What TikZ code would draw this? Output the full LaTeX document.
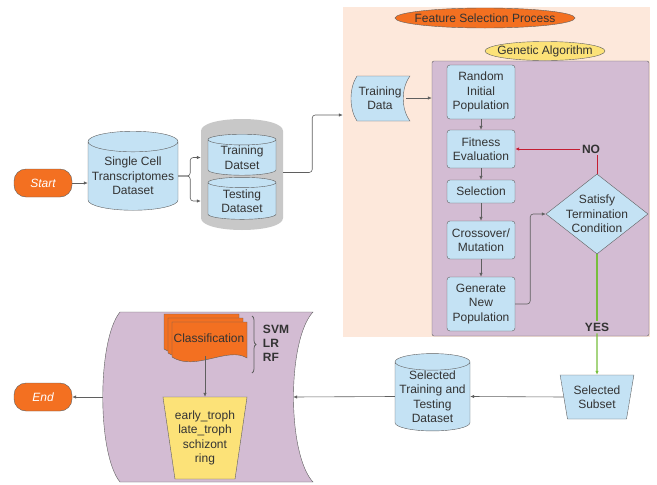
\documentclass[tikz,border=0pt]{standalone}
\usepackage{fontspec}
\setmainfont{Liberation Sans}
\usetikzlibrary{shapes.geometric,arrows.meta,decorations.pathreplacing}

\definecolor{orng}{RGB}{243,112,33}
\definecolor{lblue}{RGB}{196,226,244}
\definecolor{peach}{RGB}{253,232,219}
\definecolor{mauve}{RGB}{211,188,211}
\definecolor{gold}{RGB}{252,226,120}
\definecolor{silver}{RGB}{200,200,200}
\definecolor{edge}{RGB}{95,95,95}
\definecolor{ink}{RGB}{51,51,51}
\definecolor{nored}{RGB}{196,30,50}
\definecolor{yesgreen}{RGB}{118,190,60}

\begin{document}
\begin{tikzpicture}[x=1pt,y=-1pt,>={Latex[length=4pt,width=3.5pt]},
    every node/.style={font=\fontsize{12}{14.5}\selectfont,text=ink,align=center,inner sep=0pt},
    term/.style={draw=edge,fill=orng,rounded corners=12pt,minimum width=58,minimum height=28,text=white,font=\fontsize{12}{14}\selectfont\itshape},
    db/.style={cylinder,shape border rotate=90,aspect=0.25,draw=edge,fill=lblue},
    stepbox/.style={draw=edge,fill=lblue,rounded corners=3pt,minimum width=68},
    link/.style={->,draw=edge,line width=0.6pt},
    tag/.style={font=\fontsize{12}{14}\selectfont\bfseries,inner sep=2pt}]
  \useasboundingbox (0,0) rectangle (657,485);

  % input side
  \node[term] (start) at (43,183) {Start};
  \node[db,minimum width=90,minimum height=79] (sc) at (133,176) {Single Cell\\Transcriptomes\\Dataset};
  \fill[silver] (201,131) .. controls (201,115) and (283,115) .. (283,131) -- (283,218) .. controls (283,234) and (201,234) .. (201,218) -- cycle;
  \node[minimum width=82,minimum height=110] (split) at (242,174.5) {};
  \node[db,minimum width=68,minimum height=41] (trn) at (242,157.5) {Training\\Datset};
  \node[db,minimum width=68,minimum height=42] (tst) at (242,201) {Testing\\Dataset};
  \draw[link] (start) -- (start -| sc.west);
  \draw[link,rounded corners=3pt] (sc.east) -- ++(12,0) |- (split.west |- trn);
  \draw[link,rounded corners=3pt] (sc.east) -- ++(12,0) |- (split.west |- tst);

  % feature selection
  \node[fill=peach,minimum width=307,minimum height=330] (fs) at (496.5,172) {};
  \node[ellipse,draw=edge,fill=orng,minimum width=180,minimum height=20,inner xsep=-12pt] (fsp) at (485,18) {Feature Selection Process};
  \node[ellipse,draw=edge,fill=gold,minimum width=120,minimum height=19,inner xsep=-6pt] (gal) at (545,51) {Genetic Algorithm};
  \node[draw=edge,fill=mauve,rounded corners=2pt,minimum width=217,minimum height=275] (ga) at (540.5,198.5) {};
  \draw[link,rounded corners=3pt] ([yshift=2pt]split.east) -- ++(29,0) |- ([yshift=57pt]fs.west);
  \filldraw[draw=edge,fill=lblue] (357,76) -- (410,76) .. controls (401,88) and (401,109) .. (410,121) -- (357,121) .. controls (349,109) and (349,88) .. cycle;
  \node[minimum width=52] (td) at (380,98) {Training\\Data};
  \draw[link] (td.east) -- (ga.west |- td.east);

  \node[stepbox,minimum height=54] (rip) at (481,92) {Random\\Initial\\Population};
  \node[stepbox,minimum height=38] (fit) at (481,149) {Fitness\\Evaluation};
  \node[stepbox,minimum height=23] (sel) at (481,191.5) {Selection};
  \node[stepbox,minimum height=38] (cro) at (481,240) {Crossover/\\Mutation};
  \node[stepbox,minimum height=54] (gen) at (481,304) {Generate\\New\\Population};
  \node[diamond,draw=edge,fill=lblue,minimum width=102,minimum height=80,inner xsep=-6pt,inner ysep=-8pt] (sat) at (597,214) {Satisfy\\Termination\\Condition};
  \node[tag] (no) at (591,149) {NO};
  \node[tag] (yes) at (597,327) {YES};
  \draw[link] (rip) -- (fit);
  \draw[link] (fit) -- (sel);
  \draw[link] (sel) -- (cro);
  \draw[link] (cro) -- (gen);
  \draw[link,rounded corners=3pt] (gen.east) -- ++(15,0) |- (sat.west);
  \draw[nored,line width=1pt] (sat.north) -- (sat.north |- no.south);
  \draw[->,nored,line width=1pt] (no.west) -- (fit.east);

  % selected output
  \node[trapezium,shape border rotate=180,trapezium left angle=76,trapezium right angle=76,trapezium stretches=true,draw=edge,fill=lblue,minimum width=74,minimum height=44] (sub) at (597,397) {Selected\\Subset};
  \node[db,minimum width=75,minimum height=77] (stt) at (432.5,396.5) {Selected\\Training and\\Testing\\Dataset};
  \draw[yesgreen,line width=1.2pt] (sat.south) -- (yes.north);
  \draw[->,yesgreen,line width=1.2pt] (yes.south) -- (sub.north);
  \draw[link] (sub.west) -- (stt.east);

  % classification
  \filldraw[draw=edge,fill=mauve] (120,312) -- (313,312) .. controls (287,340) and (287,454) .. (313,482) -- (120,482) .. controls (97,454) and (97,340) .. cycle;
  \node[minimum width=190,minimum height=20] (clf) at (198,397) {};
  \foreach \d in {8,4,0}
    \filldraw[draw=edge,fill=orng,shift={(-\d,-\d)}] (172,322) -- (247,322) -- (247,358) .. controls (228,346) and (195,372) .. (172,357) -- cycle;
  \node[minimum width=75,minimum height=36] (cls) at (209,338) {Classification};
  \node[trapezium,shape border rotate=180,trapezium left angle=77.6,trapezium right angle=77.6,trapezium stretches=true,draw=edge,fill=gold,minimum width=81,minimum height=82] (stage) at (205,438) {early\_troph\\late\_troph\\schizont\\ring};
  \draw[link] (cls.south -| stage.north) -- (stage.north);
  \draw[edge,line width=0.8pt,decorate,decoration={brace,amplitude=4pt}] (252,316) -- (252,373);
  \node[tag,align=left] (alg) at (276,343) {SVM\\LR\\RF};
  \node[term] (end) at (43,397) {End};
  \draw[link] (stt.west) -- (clf.east);
  \draw[link] (clf.west) -- (end.east);
\end{tikzpicture}
\end{document}
